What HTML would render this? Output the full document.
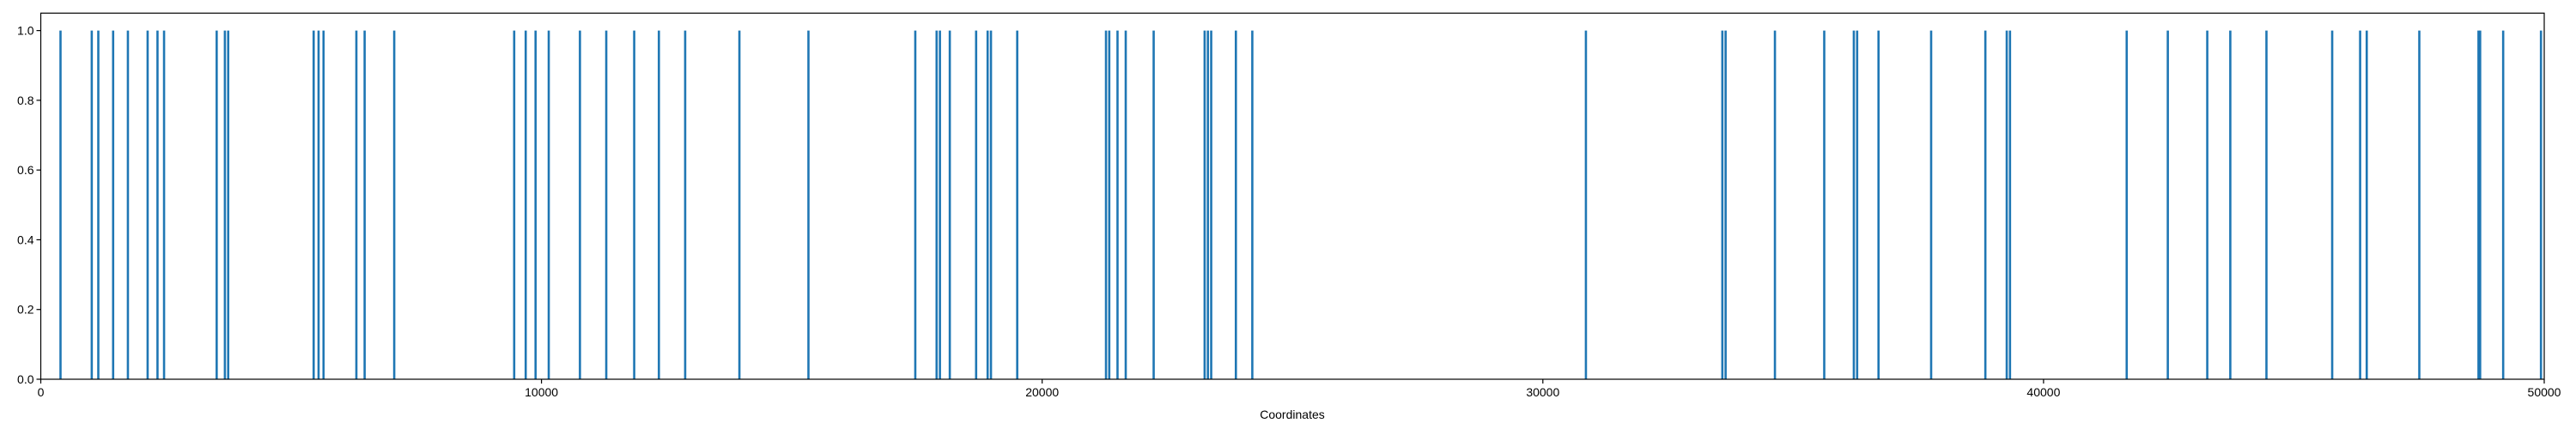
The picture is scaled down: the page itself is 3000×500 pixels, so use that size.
<!DOCTYPE html>
<html><head><meta charset="utf-8"><style>
html,body{margin:0;padding:0;background:#fff;}
svg{display:block;font-family:"Liberation Sans","DejaVu Sans",sans-serif;}
</style></head><body>
<svg id="chart" width="3000" height="500" xmlns="http://www.w3.org/2000/svg">
<g id="marks"></g>
<g id="axes"></g>
<text x="1505" y="488" font-size="14" text-anchor="middle">Coordinates</text>
</svg>
<script>
const positions = [394,1018,1149,1445,1740,2134,2331,2462,3513,3677,3743,5450,5548,5647,6303,6468,7059,9455,9685,9882,10145,10768,11294,11852,12345,12870,13953,15332,17466,17892,17958,18155,18681,18911,18977,19502,21275,21340,21505,21669,22227,23245,23310,23376,23869,24197,30860,33585,33650,34635,35620,36211,36277,36704,37755,38838,39265,39330,41661,42482,43270,43730,44452,45765,46323,46455,47505,48687,48720,49180,49935];
const values = positions.map(()=>1);
const xTicks = [0,10000,20000,30000,40000,50000];
const yTicks = [0,0.2,0.4,0.6,0.8,1.0];

const NS="http://www.w3.org/2000/svg";
const L=47.5,R=2963,T=15.3,B=442;
const xMin=0,xMax=50000,yMin=0,yMax=1.05;
const sx=v=>L+(v-xMin)/(xMax-xMin)*(R-L);
const sy=v=>B-(v-yMin)/(yMax-yMin)*(B-T);
function mk(tag,attrs,parent){const e=document.createElementNS(NS,tag);for(const k in attrs)e.setAttribute(k,attrs[k]);parent.appendChild(e);return e;}
const marks=document.getElementById('marks');
positions.forEach((p,i)=>{
  const r=mk('rect',{x:sx(p)-1.3,y:sy(values[i]),width:2.6,height:sy(0)-sy(values[i]),fill:'#1f77b4'},marks);
  
  
});
const axes=document.getElementById('axes');
const frame=mk('rect',{x:L,y:T,width:R-L,height:B-T,fill:'none',stroke:'#000','stroke-width':1.2},axes);


xTicks.forEach(t=>{
  const x=sx(t);
  mk('line',{x1:x,x2:x,y1:B,y2:B+5,stroke:'#000','stroke-width':1.2},axes);
  const tx=mk('text',{x:x,y:B+20,'font-size':14,'text-anchor':'middle'},axes);
  tx.textContent=String(t);
  
  
});
yTicks.forEach(t=>{
  const y=sy(t);
  mk('line',{x1:L-5,x2:L,y1:y,y2:y,stroke:'#000','stroke-width':1.2},axes);
  const tx=mk('text',{x:L-8,y:y+5,'font-size':14,'text-anchor':'end'},axes);
  tx.textContent=t.toFixed(1);
  
  
});
</script>
</body></html>
